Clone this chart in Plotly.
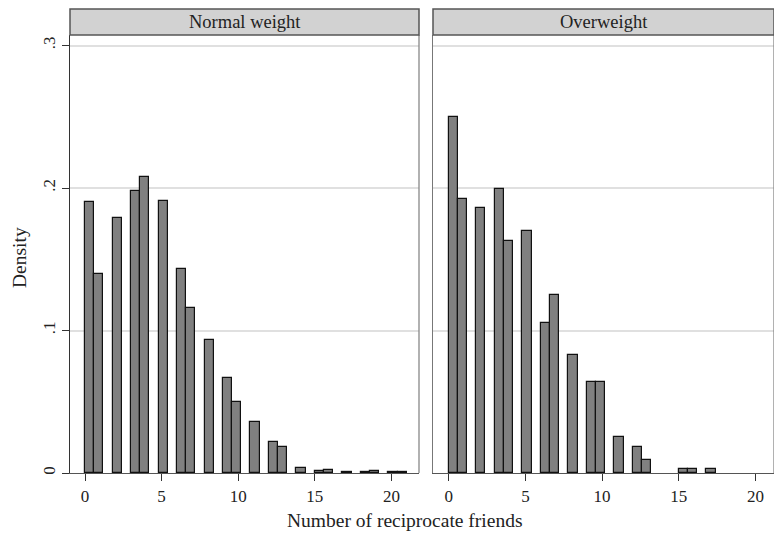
import numpy as np
import plotly.graph_objects as go

# ---- data (density per integer count of reciprocate friends) ----
friends = list(range(0, 22))
density_normal = [0.190, 0.140, 0.179, 0.198, 0.208, 0.191, 0.143, 0.116, 0.093, 0.0665,
                  0.050, 0.036, 0.022, 0.0185, 0.0037, 0.0014, 0.0023, 0.0006, 0.0006, 0.0012,
                  0.0006, 0.0006]
density_over = [0.250, 0.192, 0.186, 0.199, 0.163, 0.170, 0.105, 0.125, 0.083, 0.064,
                0.064, 0.025, 0.0185, 0.0091, 0.0, 0.0028, 0.0028, 0.0028, 0.0, 0.0,
                0.0, 0.0]
panel_titles = ["Normal weight", "Overweight"]
bin_width = 0.6
n_bins = 35
y_tickvals = [0, 0.1, 0.2, 0.3]
y_ticktext = ["0", ".1", ".2", ".3"]
x_tickvals = [0, 5, 10, 15, 20]

FONT = "Liberation Serif, DejaVu Serif, serif"

f = np.array(friends, dtype=float)
bin_idx = np.minimum(np.floor(f / bin_width + 1e-9), n_bins - 1)
centers = bin_idx * bin_width + bin_width / 2

fig = go.Figure()
for i, dens in enumerate([density_normal, density_over]):
    d = np.array(dens)
    keep = d > 0
    fig.add_trace(go.Bar(
        x=centers[keep], y=d[keep], width=bin_width,
        marker=dict(color="#808080", line=dict(color="#111111", width=1.2)),
        xaxis="x" if i == 0 else "x2", yaxis="y" if i == 0 else "y2",
        showlegend=False, hoverinfo="skip"))

W, H = 774, 539
ml, mt, mb = 70, 35, 66
pw = W - ml
left_end = (419 - ml) / pw
right_start = (433 - ml) / pw

TICKFONT = dict(family=FONT, size=17, color="#222222")
yrange = [0, (473 - 35) / 1425.0]
common_y = dict(range=yrange, tickvals=y_tickvals, showgrid=True, gridcolor="#e0e0e0",
                gridwidth=1.5, zeroline=False, ticks="outside", ticklen=7, tickcolor="#333333",
                showline=True, linecolor="#333333", linewidth=1.3, tickfont=TICKFONT)

fig.update_layout(
    width=W, height=H, margin=dict(l=ml, r=0, t=mt, b=mb),
    plot_bgcolor="white", paper_bgcolor="white", bargap=0,
    font=dict(family=FONT, color="#222222"),
    xaxis=dict(domain=[0, left_end], range=[-0.98, 21.8], tickvals=x_tickvals,
               ticks="outside", ticklen=7, tickcolor="#333333", showgrid=False, zeroline=False,
               showline=True, linecolor="#555555", linewidth=1.3, tickfont=TICKFONT),
    xaxis2=dict(domain=[right_start, 1], range=[-1.02, 21.2], tickvals=x_tickvals,
                ticks="outside", ticklen=7, tickcolor="#333333", showgrid=False, zeroline=False,
                showline=True, linecolor="#555555", linewidth=1.3, anchor="y2",
                tickfont=TICKFONT),
    yaxis=dict(**common_y, ticktext=y_ticktext, tickangle=-90, anchor="x"),
    yaxis2=dict(range=yrange, tickvals=y_tickvals, showticklabels=False, showgrid=True,
                gridcolor="#e0e0e0", gridwidth=1.5, zeroline=False, ticks="",
                showline=True, linecolor="#777777", linewidth=1, anchor="x2"),
)

strip_top = 1 + 26 / 438
for i, (xr, yr) in enumerate([("x domain", "y domain"), ("x2 domain", "y2 domain")]):
    fig.add_shape(type="line", xref=xr, yref=yr, x0=1, x1=1, y0=0, y1=1,
                  line=dict(color="#888888", width=1.3))
    fig.add_shape(type="rect", xref=xr, yref=yr, x0=0, x1=1, y0=1, y1=strip_top,
                  fillcolor="#d2d2d2", line=dict(color="#555555", width=1.5), layer="above")
    fig.add_annotation(xref=xr, yref=yr, x=0.5, y=(1 + strip_top) / 2, text=panel_titles[i],
                       showarrow=False, font=dict(family=FONT, size=18.5, color="#222222"),
                       xanchor="center", yanchor="middle")

fig.add_annotation(xref="paper", yref="paper", x=(405 - ml) / pw, y=-(520 - 473) / 438,
                   text="Number of reciprocate friends", showarrow=False,
                   font=dict(family=FONT, size=19.5, color="#222222"),
                   xanchor="center", yanchor="middle")
fig.add_annotation(xref="paper", yref="paper", x=-(ml - 19) / pw, y=(473 - 258) / 438,
                   text="Density", textangle=-90, showarrow=False,
                   font=dict(family=FONT, size=19.5, color="#222222"),
                   xanchor="center", yanchor="middle")

fig.write_html("out.html")
